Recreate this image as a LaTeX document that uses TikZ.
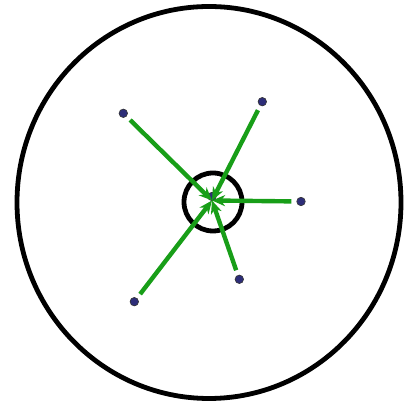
\documentclass[tikz,border=0pt]{standalone}
\usetikzlibrary{arrows.meta}
\definecolor{arrgreen}{RGB}{24,158,24}
\definecolor{dotblue}{RGB}{45,45,120}
\begin{document}
\begin{tikzpicture}[x=1pt,y=1pt,
  ring/.style={draw=black,line width=4.8pt},
  pt/.style={circle,fill=dotblue,draw=black!80,line width=0.6pt,inner sep=0pt,minimum size=8.5pt},
  vec/.style={draw=arrgreen,line width=4.4pt,-{Stealth[length=13pt,width=11pt,inset=4pt]},shorten <=5pt,shorten >=0pt}]
\useasboundingbox (0,0) rectangle (404,403);
\draw[ring] (209,200.5) ellipse [x radius=192,y radius=196];
\draw[ring] (213,201) circle [radius=29];
\coordinate (O) at (212,202.5);
\node[pt] (c) at (212,206.5) {};
\node[pt] (a) at (123.3,289.7) {};
\node[pt] (b) at (262.3,301.3) {};
\node[pt] (r) at (301,201.5) {};
\node[pt] (d) at (239.3,123.7) {};
\node[pt] (e) at (134.3,101.3) {};
\draw[vec] (a) -- (O);
\draw[vec] (b) -- (O);
\draw[vec] (r) -- (O);
\draw[vec] (d) -- (O);
\draw[vec] (e) -- (O);
\end{tikzpicture}
\end{document}
